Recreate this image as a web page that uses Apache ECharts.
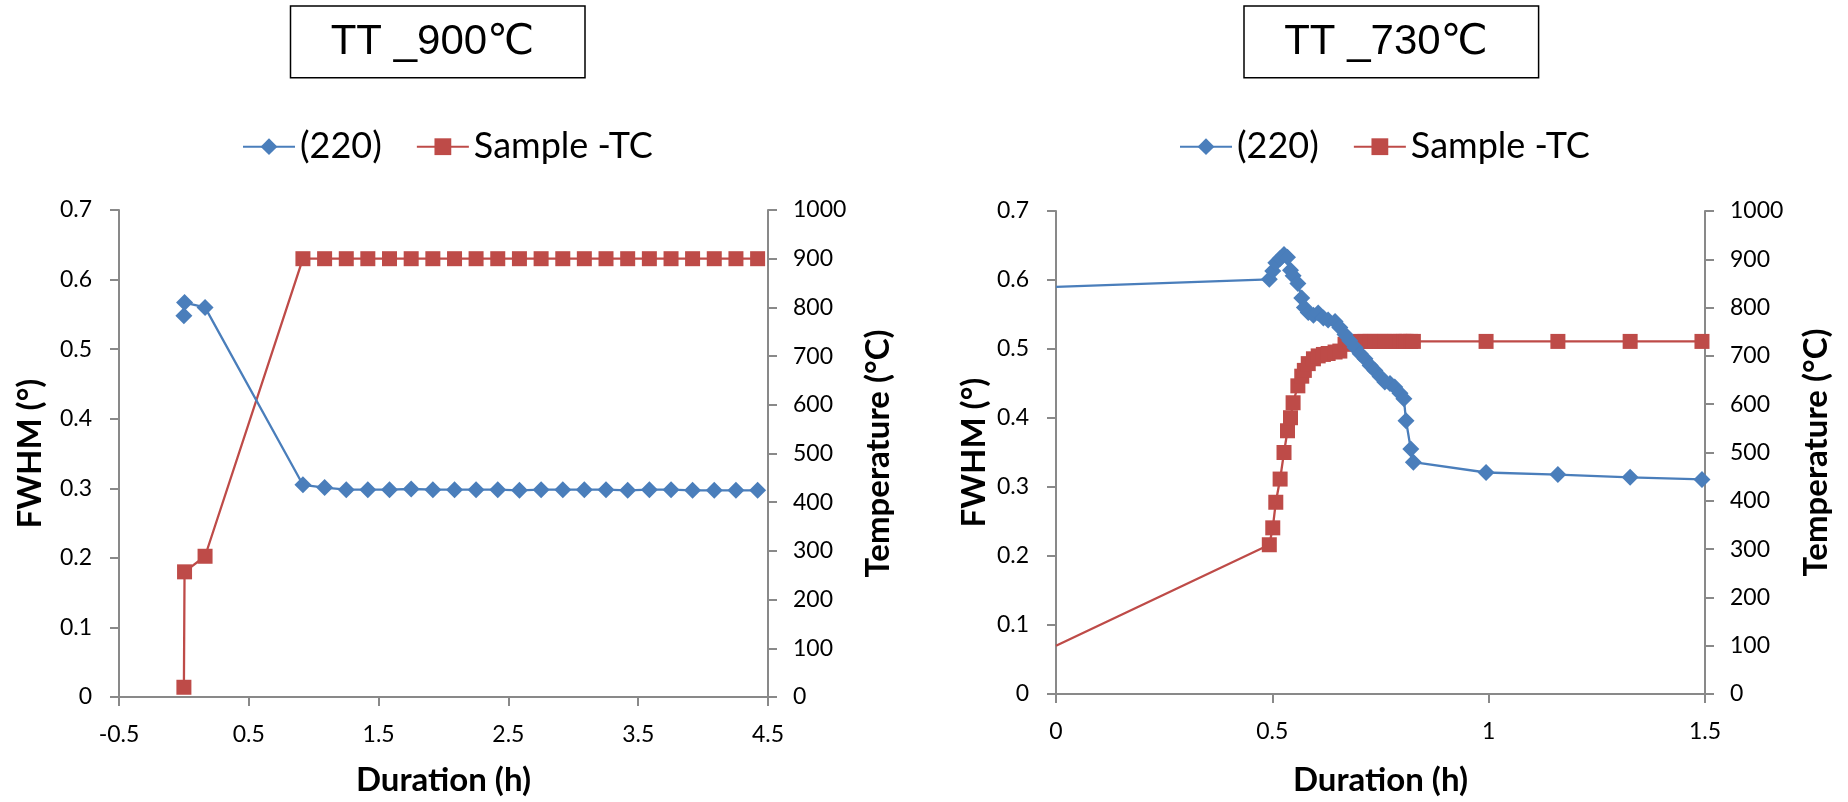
<!DOCTYPE html>
<html><head><meta charset="utf-8">
<script src="https://cdn.jsdelivr.net/npm/echarts@6/dist/echarts.min.js"></script>
<style>html,body{margin:0;padding:0;background:#fff}#c{width:1848px;height:802px}</style>
</head><body><div id="c"></div>
<script>
// ---- data ----
const seriesNames = ['(220)', 'Sample -TC'];
const titles = ['TT _900\u2103', 'TT _730\u2103'];
const xNameText = 'Duration (h)';
const yLeftName = 'FWHM (\u00b0)';
const yRightName = 'Temperature (\u00b0C)';

// Left chart: TT 900 C
const timeL = [0, 0.005, 0.163, 0.917, 1.084, 1.251, 1.417, 1.584, 1.751, 1.918, 2.085, 2.251,
  2.418, 2.585, 2.752, 2.919, 3.085, 3.252, 3.419, 3.586, 3.753, 3.919, 4.086, 4.253, 4.420];
const fwhmL = [0.548, 0.567, 0.560, 0.305, 0.301, 0.298, 0.298, 0.298, 0.299, 0.298, 0.298, 0.298,
  0.298, 0.297, 0.298, 0.298, 0.298, 0.298, 0.297, 0.298, 0.298, 0.297, 0.297, 0.297, 0.297];
const tempL = [20, 257, 289, 900, 900, 900, 900, 900, 900, 900, 900, 900,
  900, 900, 900, 900, 900, 900, 900, 900, 900, 900, 900, 900, 900];

// Right chart: TT 730 C
const timeR = [0, 0.493, 0.501, 0.508, 0.518, 0.527, 0.535, 0.542, 0.548, 0.559, 0.568, 0.574,
  0.583, 0.595, 0.606, 0.618, 0.629, 0.645, 0.656, 0.668, 0.679, 0.691, 0.703, 0.714, 0.726,
  0.737, 0.749, 0.760, 0.772, 0.783, 0.795, 0.804, 0.809, 0.820, 0.826, 0.994, 1.160, 1.327, 1.493];
const fwhmR = [0.590, 0.601, 0.613, 0.625, 0.631, 0.637, 0.633, 0.614, 0.606, 0.595, 0.574, 0.560,
  0.553, 0.549, 0.552, 0.545, 0.542, 0.540, 0.531, 0.521, 0.512, 0.502, 0.493, 0.486, 0.476,
  0.469, 0.460, 0.452, 0.450, 0.445, 0.436, 0.428, 0.396, 0.355, 0.336, 0.321, 0.318, 0.314, 0.311];
const tempR = [100, 309, 344, 397, 445, 500, 545, 572, 603, 638, 658, 670,
  684, 694, 700, 703, 705, 708, 710, 724, 728, 729, 730, 730, 730,
  730, 730, 730, 730, 730, 730, 730, 730, 730, 730, 730, 730, 730, 730];

const xRangeL = [-0.5, 4.5, 1];
const xRangeR = [0, 1.5, 0.5];
const yRangeLeft = [0, 0.7, 0.1];
const yRangeRight = [0, 1000, 100];

// ---- styling ----
const BLUE = '#4a7ebb', RED = '#be4b48', GRAY = '#898989';
const FONT = 'Lato';
const chart = echarts.init(document.getElementById('c'));

function xAxis(gi, r, gap) {
  return {type: 'value', gridIndex: gi, min: r[0], max: r[1], interval: r[2],
    name: xNameText, nameLocation: 'middle', nameGap: gap,
    nameTextStyle: {fontFamily: FONT, fontWeight: 'bold', fontSize: 33, lineHeight: 33, color: '#000'},
    axisLine: {show: true, onZero: false, lineStyle: {color: GRAY, width: 2}},
    axisTick: {show: true, length: 9, lineStyle: {color: GRAY, width: 2}},
    splitLine: {show: false},
    axisLabel: {color: '#000', fontFamily: FONT, fontSize: 23, margin: 26, formatter: v => String(v)}};
}
function yAxis(gi, r, pos, name, gap, margin) {
  return {type: 'value', gridIndex: gi, position: pos, min: r[0], max: r[1], interval: r[2],
    name: name, nameLocation: 'middle', nameGap: gap,
    nameTextStyle: {fontFamily: FONT, fontWeight: 'bold', fontSize: 33, lineHeight: 33, color: '#000'},
    axisLine: {show: true, onZero: false, lineStyle: {color: GRAY, width: 2}},
    axisTick: {show: true, length: 9, lineStyle: {color: GRAY, width: 2}},
    splitLine: {show: false},
    axisLabel: {color: '#000', fontFamily: FONT, fontSize: 23, margin: margin, formatter: v => String(v)}};
}
function lineSeries(name, xi, yi, times, vals, color, symbol, size, z, hideFirst) {
  return {type: 'line', name: name, xAxisIndex: xi, yAxisIndex: yi, z: z,
    data: times.map((t, i) => [t, vals[i]]),
    symbol: symbol,
    symbolSize: hideFirst ? function (v, p) { return p.dataIndex === 0 ? 0 : size; } : size,
    lineStyle: {color: color, width: 2.3},
    itemStyle: {color: color},
    emphasis: {disabled: true},
    animation: false};
}
function legend(left) {
  return {left: left, top: 128.7, padding: 0, data: seriesNames, itemWidth: 52, itemHeight: 21, itemGap: 34,
    textStyle: {fontFamily: FONT, fontSize: 36, lineHeight: 36, color: '#000'}};
}
function titleBox(x, y, w, h, text, tx) {
  return {type: 'group', children: [
    {type: 'rect', shape: {x: x, y: y, width: w, height: h}, style: {fill: '#fff', stroke: '#000', lineWidth: 1.5}},
    {type: 'text', x: tx, y: y + h / 2 + 0.5, style: {text: text, fill: '#000', fontSize: 42,
      fontFamily: '"Liberation Sans", "DejaVu Sans", sans-serif', align: 'center', verticalAlign: 'middle'}}
  ]};
}

chart.setOption({
  animation: false,
  backgroundColor: '#fff',
  grid: [
    {left: 119, top: 210, width: 649, height: 489.5},
    {left: 1056, top: 211, width: 649, height: 485.7}
  ],
  legend: [legend(242), legend(1179)],
  xAxis: [xAxis(0, xRangeL, 67), xAxis(1, xRangeR, 70)],
  yAxis: [
    yAxis(0, yRangeLeft, 'left', yLeftName, 72, 27),
    yAxis(0, yRangeRight, 'right', yRightName, 93.5, 25),
    yAxis(1, yRangeLeft, 'left', yLeftName, 65, 27),
    yAxis(1, yRangeRight, 'right', yRightName, 95, 25)
  ],
  series: [
    lineSeries(seriesNames[1], 0, 1, timeL, tempL, RED, 'rect', 15, 2, false),
    lineSeries(seriesNames[0], 0, 0, timeL, fwhmL, BLUE, 'diamond', 17, 3, false),
    lineSeries(seriesNames[1], 1, 3, timeR, tempR, RED, 'rect', 15, 2, true),
    lineSeries(seriesNames[0], 1, 2, timeR, fwhmR, BLUE, 'diamond', 17, 3, true)
  ],
  graphic: [
    titleBox(290.5, 6, 294.5, 71.7, titles[0], 432.5),
    titleBox(1244, 6, 294.6, 71.7, titles[1], 1386)
  ]
});
</script></body></html>
